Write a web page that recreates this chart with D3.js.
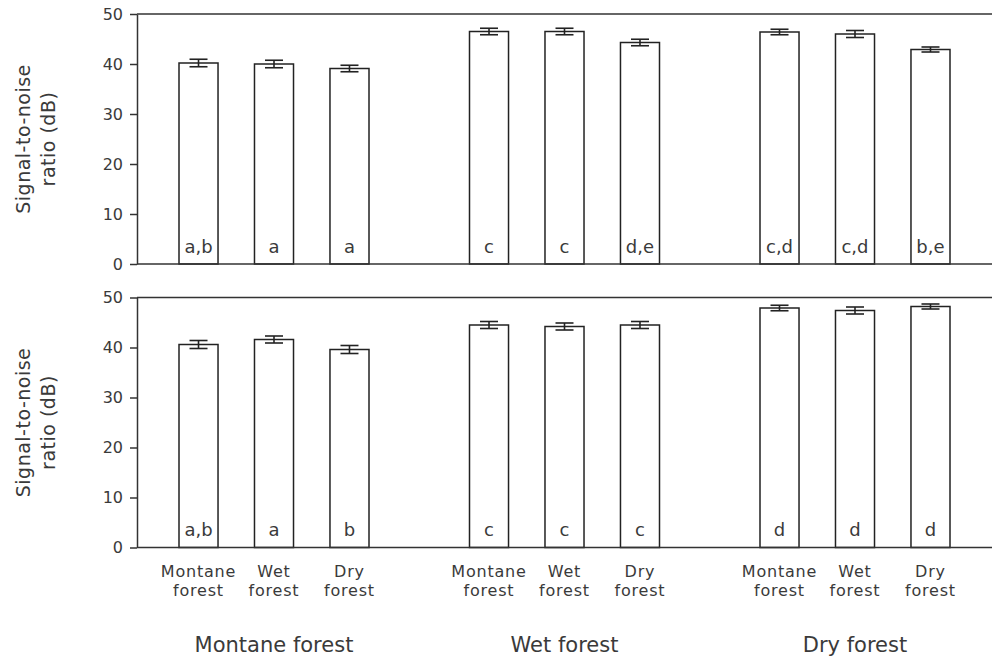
<html>
<head>
	<script src="https://d3js.org/d3.v7.min.js"></script>
	<style>
		body { margin: 0; background: #fff; }
		text { font-family: "DejaVu Sans", Verdana, sans-serif; fill: #3a3a3a; }
	</style>
</head>
<body>
	<script>
		// groups along the x axis, and the three habitats inside each group
		var groups = ["Montane forest", "Wet forest", "Dry forest"];
		var habitats = ["Montane forest", "Wet forest", "Dry forest"];

		// upper panel
		var topMeans = [40.2, 40.0, 39.1, 46.5, 46.5, 44.3, 46.4, 46.0, 42.9];
		var topErrs = [0.75, 0.75, 0.65, 0.65, 0.65, 0.65, 0.55, 0.7, 0.5];
		var topLetters = ["a,b", "a", "a", "c", "c", "d,e", "c,d", "c,d", "b,e"];

		// lower panel
		var botMeans = [40.6, 41.6, 39.6, 44.5, 44.2, 44.5, 47.9, 47.4, 48.2];
		var botErrs = [0.8, 0.7, 0.8, 0.7, 0.7, 0.7, 0.55, 0.7, 0.5];
		var botLetters = ["a,b", "a", "b", "c", "c", "c", "d", "d", "d"];

		var yTicks = [0, 10, 20, 30, 40, 50];

		var w = 992; //畫布寬
		var h = 662; //畫布高
		var left = 137; //y軸位置
		var line = "#333";

		var svg = d3.select("body").append("svg").attr("width", w).attr("height", h);

		//x尺度: 群組中心 + 群組內的長條
		var xGroup = d3.scalePoint().domain(groups).range([274, 855]);
		var xInner = d3.scaleBand().domain(habitats).range([-95, 95]).paddingInner(0.483).paddingOuter(0);
		var bw = xInner.bandwidth();

		function barCenter(i) {
			var g = groups[Math.floor(i / 3)];
			var hb = habitats[i % 3];
			return xGroup(g) + xInner(hb) + bw / 2;
		}

		function drawPanel(means, errs, letters, yTop, yBottom) {
			var yScale = d3.scaleLinear().domain([0, 50]).range([yBottom, yTop]);
			var g = svg.append("g");

			var data = means.map(function(m, i) {
				return { m: m, e: errs[i], l: letters[i], i: i };
			});

			//長條
			g.selectAll("rect")
				.data(data)
				.enter()
				.append("rect")
				.attr("x", function(d) { return barCenter(d.i) - bw / 2; })
				.attr("y", function(d) { return yScale(d.m); })
				.attr("width", bw)
				.attr("height", function(d) { return yScale(0) - yScale(d.m); })
				.attr("fill", "#fff")
				.attr("stroke", "#222")
				.attr("stroke-width", 1.5);

			//誤差線
			var eb = g.selectAll(".err").data(data).enter().append("g").attr("class", "err")
				.attr("stroke", "#222").attr("stroke-width", 1.6);
			eb.append("line")
				.attr("x1", function(d) { return barCenter(d.i); })
				.attr("x2", function(d) { return barCenter(d.i); })
				.attr("y1", function(d) { return yScale(d.m + d.e); })
				.attr("y2", function(d) { return yScale(d.m - d.e); });
			eb.append("line")
				.attr("x1", function(d) { return barCenter(d.i) - 9; })
				.attr("x2", function(d) { return barCenter(d.i) + 9; })
				.attr("y1", function(d) { return yScale(d.m + d.e); })
				.attr("y2", function(d) { return yScale(d.m + d.e); });
			eb.append("line")
				.attr("x1", function(d) { return barCenter(d.i) - 9; })
				.attr("x2", function(d) { return barCenter(d.i) + 9; })
				.attr("y1", function(d) { return yScale(d.m - d.e); })
				.attr("y2", function(d) { return yScale(d.m - d.e); });

			//字母
			g.selectAll(".lab")
				.data(data)
				.enter()
				.append("text")
				.attr("class", "lab")
				.attr("x", function(d) { return barCenter(d.i); })
				.attr("y", yScale(0) - 11.5)
				.attr("text-anchor", "middle")
				.style("font-size", "18px")
				.text(function(d) { return d.l; });

			//AXIS
			var yAxis = d3.axisLeft(yScale).tickValues(yTicks).tickSize(7).tickPadding(7).tickSizeOuter(0);
			var ax = svg.append("g").attr("transform", "translate(" + left + ",0)").call(yAxis);
			ax.selectAll("text").style("font-size", "16px").style("fill", "#3a3a3a");
			ax.selectAll("line, path").attr("stroke", line).attr("stroke-width", 1.5);

			svg.append("line").attr("x1", left).attr("x2", w).attr("y1", yScale(50)).attr("y2", yScale(50))
				.attr("stroke", line).attr("stroke-width", 1.5);
			svg.append("line").attr("x1", left).attr("x2", w).attr("y1", yScale(0)).attr("y2", yScale(0))
				.attr("stroke", line).attr("stroke-width", 1.5);

			//y軸標題
			var cy = (yTop + yBottom) / 2;
			svg.append("text")
				.attr("transform", "translate(30," + cy + ") rotate(-90)")
				.attr("text-anchor", "middle")
				.style("font-size", "19px")
				.style("letter-spacing", "0.5px")
				.text("Signal-to-noise");
			svg.append("text")
				.attr("transform", "translate(55," + cy + ") rotate(-90)")
				.attr("text-anchor", "middle")
				.style("font-size", "19px")
				.style("letter-spacing", "0.5px")
				.text("ratio (dB)");
		}

		drawPanel(topMeans, topErrs, topLetters, 14, 264);
		drawPanel(botMeans, botErrs, botLetters, 297.5, 547.5);

		//x軸類別標籤
		var cats = d3.range(9);
		svg.selectAll(".cat1").data(cats).enter().append("text")
			.attr("x", function(i) { return barCenter(i); })
			.attr("y", 577)
			.attr("text-anchor", "middle")
			.style("font-size", "16px")
			.style("letter-spacing", "0.8px")
			.text(function(i) { return habitats[i % 3].split(" ")[0]; });
		svg.selectAll(".cat2").data(cats).enter().append("text")
			.attr("x", function(i) { return barCenter(i); })
			.attr("y", 596)
			.attr("text-anchor", "middle")
			.style("font-size", "16px")
			.style("letter-spacing", "0.8px")
			.text(function(i) { return habitats[i % 3].split(" ")[1]; });

		//群組標籤
		svg.selectAll(".grp").data(groups).enter().append("text")
			.attr("x", function(d) { return xGroup(d); })
			.attr("y", 652)
			.attr("text-anchor", "middle")
			.style("font-size", "21px")
			.text(function(d) { return d; });
	</script>
</body>
</html>
